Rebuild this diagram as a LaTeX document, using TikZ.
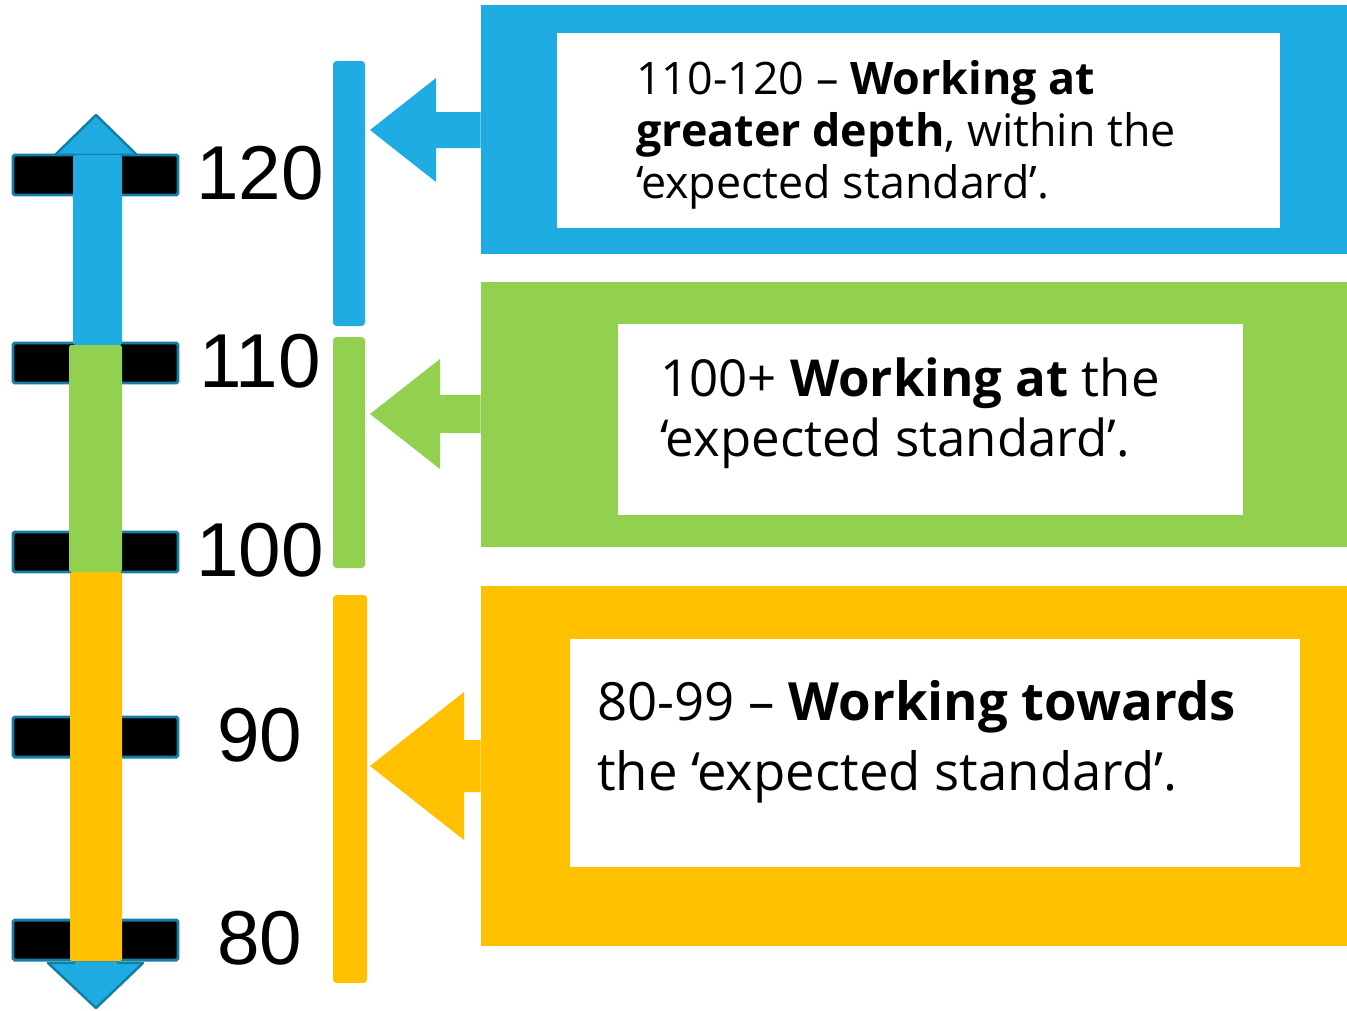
\documentclass[tikz,border=0pt]{standalone}
\usepackage{fontspec}
\setmainfont{Open Sans}
\newfontfamily\numfont{Liberation Sans}
\usetikzlibrary{fit,calc}
\definecolor{cblue}{RGB}{30,172,226}
\definecolor{cgreen}{RGB}{146,208,80}
\definecolor{cyellow}{RGB}{255,192,0}
\definecolor{cedge}{RGB}{20,126,166}

% colour, box, tip, head length, head half height, stem half height
\newcommand{\pointer}[6]{%
  \fill[#1] (#3) -- ++(#4,-#5) -- ++(0,#5-#6) -- ($(#2.west |- #3)+(0,-#6)$)
    -- ($(#2.west |- #3)+(0,#6)$) -- ($(#3)+(#4,#6)$) -- ++(0,#5-#6) -- cycle;}

\begin{document}
\begin{tikzpicture}[x=0.02cm, y=-0.02cm,
  tick/.style={fill=black, draw=cedge, line width=1.7pt, rounded corners=1pt},
  num/.style={font=\numfont\fontsize{43.5pt}{50pt}\selectfont, inner sep=0pt},
  band/.style={inner sep=0pt, rounded corners=2pt},
  panel/.style={inner sep=0pt},
  note/.style={inner sep=0pt, align=left, anchor=north west}]
\useasboundingbox (0,0) rectangle (1347,1011);
% scale arrows (behind the ticks)
\draw[fill=cblue, draw=cedge, line width=1.4pt, line join=round]
  (96,115) -- (137,155) -- (118,155) -- (118,200) -- (74,200) -- (74,155) -- (55,155) -- cycle;
\draw[fill=cblue, draw=cedge, line width=1.4pt, line join=round]
  (96,1008) -- (143,963) -- (118,963) -- (118,920) -- (74,920) -- (74,963) -- (48,963) -- cycle;
% ticks and numbers
\foreach \y/\lab in {175/120,363/110,552/100,737/90,940/80}{
  \draw[tick] (13,\y-20) rectangle (178,\y+20);
  \node[num] (n\lab) at (260,\y-2) {\lab};
}
% coloured scale
\fill[cblue, rounded corners=1pt] (73,155) rectangle (122,345);
\fill[cgreen, rounded corners=1pt] (69,345) rectangle (122,572);
\fill[cyellow, rounded corners=1pt] (70,572) rectangle (122,961);
% brackets
\node[band, fill=cblue, fit={(333,61) (365,326)}] (barA) {};
\node[band, fill=cgreen, fit={(333,337) (365,568)}] (barB) {};
\node[band, fill=cyellow, fit={(333,595) (367,983)}] (barC) {};
% greater depth
\node[panel, fill=cblue, fit={(481,5) (1347,254)}] (boxA) {};
\node[panel, fill=white, fit={(557,33) (1280,228)}] (inA) {};
\node[note, font=\fontsize{25.5pt}{29.5pt}\selectfont] (txtA) at (636,60)
  {110-120 -- \textbf{Working at}\\\textbf{greater depth}, within the\\`expected standard'.};
% expected
\node[panel, fill=cgreen, fit={(481,282) (1347,547)}] (boxB) {};
\node[panel, fill=white, fit={(618,324) (1243,515)}] (inB) {};
\node[note, font=\fontsize{29pt}{34.6pt}\selectfont] (txtB) at (660,357)
  {100+ \textbf{Working at} the\\`expected standard'.};
% towards
\node[panel, fill=cyellow, fit={(481,586) (1347,946)}] (boxC) {};
\node[panel, fill=white, fit={(570,639) (1300,867)}] (inC) {};
\node[note, font=\fontsize{30pt}{39.7pt}\selectfont] (txtC) at (597,680)
  {80-99 -- \textbf{Working towards}\\the `expected standard'.};
% pointers
\coordinate (tipA) at (370,130);
\coordinate (tipB) at (370,414);
\coordinate (tipC) at (370,766);
\pointer{cblue}{boxA}{tipA}{66}{52}{18}
\pointer{cgreen}{boxB}{tipB}{70}{55}{19}
\pointer{cyellow}{boxC}{tipC}{94}{74}{26}
\end{tikzpicture}
\end{document}
